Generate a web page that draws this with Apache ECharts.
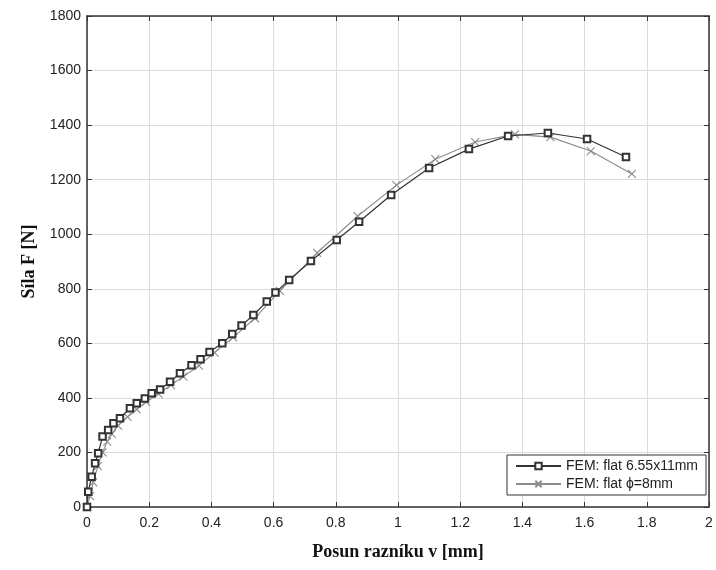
<!DOCTYPE html>
<html>
<head>
<meta charset="utf-8">
<script src="https://cdn.jsdelivr.net/npm/echarts@6/dist/echarts.min.js"></script>
<style>
  html, body { margin: 0; padding: 0; background: #fff; }
  #chart { width: 716px; height: 570px; }
</style>
</head>
<body>
<div id="chart"></div>
<script>
// FEM: flat 6.55x11mm  [displacement mm, force N]
const flatRect = [
    [0, 0], [0.004, 56], [0.015, 111], [0.026, 160], [0.036, 197], [0.05, 258],
    [0.068, 282], [0.085, 307], [0.106, 325], [0.138, 362], [0.16, 380], [0.186, 398],
    [0.208, 417], [0.235, 431], [0.267, 459], [0.299, 490], [0.336, 520], [0.365, 542],
    [0.394, 568], [0.435, 600], [0.467, 634], [0.497, 665], [0.535, 704], [0.578, 753],
    [0.606, 786], [0.65, 832], [0.72, 902], [0.803, 979], [0.875, 1046], [0.978, 1144],
    [1.10, 1243], [1.228, 1312], [1.354, 1360], [1.482, 1371], [1.608, 1349], [1.733, 1283]
]

// FEM: flat phi=8mm
const flatRound = [
    [0, 0], [0.01, 40], [0.02, 90], [0.035, 150], [0.05, 200], [0.065, 240],
    [0.08, 268], [0.1, 298], [0.13, 330], [0.16, 358], [0.19, 385], [0.23, 415],
    [0.27, 447], [0.31, 478], [0.36, 518], [0.41, 566], [0.47, 622], [0.54, 692],
    [0.62, 792], [0.74, 932], [0.87, 1066], [0.995, 1180], [1.12, 1275], [1.248, 1338],
    [1.376, 1366], [1.49, 1356], [1.62, 1305], [1.752, 1221]
]

const xTicks = [0, 2, 0.2]
const yTicks = [0, 1800, 200]
const seriesNames = ['FEM: flat 6.55x11mm', 'FEM: flat \u03d5=8mm']

const chart = echarts.init(document.getElementById('chart'))

// fresh objects per axis, echarts likes to mutate them
const gridLine = () => ({ show: true, lineStyle: { color: '#dcdcdc', width: 1 } })
const axisLine = () => ({ show: true, onZero: false, lineStyle: { color: '#333', width: 1.5 } })
const tick = () => ({ show: true, inside: true, length: 5, lineStyle: { color: '#333', width: 1 } })
const label = (margin) => ({
    fontFamily: 'Liberation Sans', fontSize: 14, color: '#222', margin: margin,
    formatter: v => String(v)
})
const axisTitle = () => ({ fontFamily: 'Liberation Serif', fontWeight: 'bold', fontSize: 18, color: '#111' })

chart.setOption({
    backgroundColor: '#fff',
    animation: false,
    grid: { left: 87, right: 7, top: 16, bottom: 63 },
    legend: {
        orient: 'vertical',
        right: 10,
        bottom: 75,
        padding: [4, 8, 4, 8],
        itemGap: 4,
        itemWidth: 45,
        itemHeight: 8,
        borderColor: '#333',
        borderWidth: 1,
        backgroundColor: '#fff',
        textStyle: { fontFamily: 'Liberation Sans', fontSize: 14, color: '#222' },
        data: seriesNames
    },
    xAxis: [{
        type: 'value',
        min: xTicks[0],
        max: xTicks[1],
        interval: xTicks[2],
        name: 'Posun razníku v [mm]',
        nameLocation: 'middle',
        nameGap: 36,
        nameTextStyle: axisTitle(),
        axisLine: axisLine(),
        axisTick: tick(),
        splitLine: gridLine(),
        axisLabel: label(9)
    }, {
        type: 'value',
        position: 'top',
        min: xTicks[0],
        max: xTicks[1],
        interval: xTicks[2],
        axisLine: axisLine(),
        axisTick: tick(),
        axisLabel: { show: false },
        splitLine: { show: false }
    }],
    yAxis: [{
        type: 'value',
        min: yTicks[0],
        max: yTicks[1],
        interval: yTicks[2],
        name: 'Síla F [N]',
        nameLocation: 'middle',
        nameGap: 49,
        nameTextStyle: axisTitle(),
        axisLine: axisLine(),
        axisTick: tick(),
        splitLine: gridLine(),
        axisLabel: label(6)
    }, {
        type: 'value',
        position: 'right',
        min: yTicks[0],
        max: yTicks[1],
        interval: yTicks[2],
        axisLine: axisLine(),
        axisTick: tick(),
        axisLabel: { show: false },
        splitLine: { show: false }
    }],
    series: [{
        name: seriesNames[0],
        type: 'line',
        data: flatRect,
        symbol: 'emptyRect',
        symbolSize: 6.5,
        lineStyle: { color: '#333', width: 1.2 },
        itemStyle: { color: '#333', borderColor: '#333', borderWidth: 1 },
        z: 3
    }, {
        name: seriesNames[1],
        type: 'line',
        data: flatRound,
        symbol: 'path://M0,0L10,10M10,0L0,10',
        symbolSize: 8,
        lineStyle: { color: '#8c8c8c', width: 1.1 },
        itemStyle: { color: 'none', borderColor: '#8c8c8c', borderWidth: 1.1 },
        z: 2
    }]
})
</script>
</body>
</html>
